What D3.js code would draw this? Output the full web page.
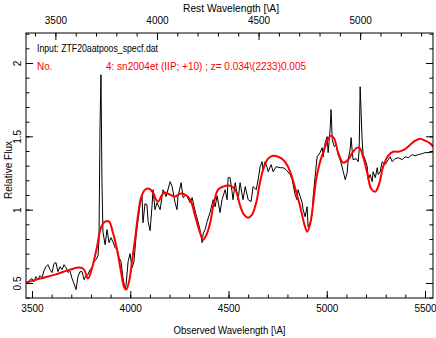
<!DOCTYPE html>
<html><head><meta charset="utf-8">
<script src="https://cdn.jsdelivr.net/npm/d3@7"></script>
<style>
html,body{margin:0;padding:0;background:#fff;}
svg{display:block;font-family:"Liberation Sans",Arial,sans-serif;}
</style></head>
<body>
<svg id="chart" width="436" height="338"></svg>
<script>
// ---- data ----
const obsWave = [3469,3480,3490,3500,3510,3520,3531,3541,3551,3561,3571,3581,3592,3602,3612,3622,3632,3643,3653,3663,3673,3683,3693,3704,3714,3724,3734,3744,3755,3765,3775,3785,3795,3806,3816,3826,3836,3841,3846,3851,3856,3861,3872,3882,3892,3902,3912,3923,3933,3943,3953,3963,3974,3979,3989,3999,4009,4019,4030,4040,4050,4060,4065,4075,4085,4091,4101,4111,4116,4126,4136,4152,4167,4182,4203,4213,4228,4238,4243,4259,4269,4284,4305,4315,4325,4335,4345,4355,4366,4371,4381,4391,4406,4422,4432,4442,4457,4467,4483,4493,4498,4508,4518,4523,4534,4549,4559,4574,4585,4600,4615,4625,4641,4651,4661,4671,4676,4686,4697,4702,4717,4727,4743,4763,4778,4793,4814,4824,4829,4839,4849,4854,4865,4875,4880,4890,4900,4905,4916,4926,4931,4941,4951,4966,4977,4982,4992,5002,5007,5017,5022,5028,5038,5048,5058,5068,5078,5084,5094,5104,5109,5119,5124,5129,5134,5150,5160,5165,5170,5180,5185,5196,5206,5211,5221,5231,5236,5247,5257,5262,5272,5282,5297,5313,5323,5333,5348,5364,5384,5399,5415,5435,5450,5465,5486,5501,5527,5542];
const obsFlux = [0.502,0.509,0.523,0.530,0.509,0.543,0.523,0.550,0.536,0.584,0.611,0.625,0.591,0.571,0.632,0.639,0.577,0.611,0.591,0.625,0.605,0.571,0.584,0.530,0.496,0.455,0.543,0.577,0.577,0.523,0.550,0.557,0.591,0.605,0.646,0.659,0.686,0.795,1.545,1.920,1.205,0.850,0.761,0.864,0.775,0.809,0.782,0.741,0.727,0.673,0.646,0.536,0.455,0.489,0.646,0.700,0.605,0.646,0.823,0.932,1.034,1.089,0.911,1.041,1.034,0.918,0.857,1.027,1.136,1.000,1.048,1.000,1.136,1.089,1.191,1.157,1.048,1.000,1.089,1.184,1.082,1.102,1.048,1.082,1.020,0.966,0.918,0.864,0.775,0.836,0.864,0.918,0.980,1.068,1.020,1.095,0.980,1.068,1.136,1.068,1.218,1.218,1.123,1.068,1.184,1.068,1.184,1.068,1.157,1.068,1.055,1.157,1.136,1.205,1.293,1.327,1.273,1.327,1.286,1.259,1.307,1.259,1.293,1.286,1.286,1.273,1.239,1.205,1.170,1.102,1.068,1.136,1.089,1.048,1.000,0.952,1.020,0.884,0.911,0.980,1.089,1.225,1.361,1.389,1.423,1.361,1.457,1.498,1.389,1.545,1.682,1.477,1.430,1.443,1.375,1.341,1.293,1.259,1.205,1.252,1.341,1.409,1.491,1.409,1.341,1.348,1.327,1.409,1.838,1.477,1.375,1.341,1.293,1.205,1.239,1.191,1.259,1.218,1.286,1.239,1.259,1.327,1.307,1.341,1.361,1.327,1.348,1.354,1.341,1.361,1.354,1.375,1.368,1.375,1.382,1.389,1.389,1.395];
const tplWave = [3469,3541,3617,3693,3744,3765,3785,3806,3831,3851,3872,3892,3912,3933,3953,3968,3979,3994,4009,4024,4040,4055,4075,4096,4116,4131,4142,4157,4172,4203,4228,4254,4279,4305,4330,4355,4371,4386,4406,4427,4447,4473,4498,4518,4539,4559,4579,4600,4620,4641,4661,4681,4702,4727,4753,4778,4803,4824,4844,4865,4885,4900,4916,4931,4946,4966,4987,5007,5022,5038,5058,5084,5109,5134,5155,5170,5185,5206,5226,5247,5267,5287,5313,5338,5364,5394,5425,5450,5476,5501,5527,5542];
const tplFlux = [0.502,0.530,0.557,0.591,0.605,0.591,0.530,0.605,0.748,0.877,0.918,0.918,0.843,0.727,0.577,0.475,0.455,0.509,0.646,0.795,0.966,1.082,1.136,1.143,1.116,1.068,1.055,1.089,1.116,1.102,1.089,1.109,1.102,1.068,0.959,0.843,0.795,0.823,0.905,1.055,1.136,1.157,1.164,1.157,1.123,1.027,0.966,0.945,0.966,1.048,1.191,1.293,1.348,1.368,1.361,1.341,1.293,1.218,1.123,1.020,0.905,0.850,0.905,1.041,1.205,1.327,1.409,1.484,1.504,1.484,1.389,1.320,1.341,1.395,1.423,1.416,1.361,1.252,1.143,1.123,1.177,1.293,1.368,1.395,1.395,1.409,1.443,1.470,1.484,1.470,1.450,1.429];
const obsTicks = [3500,4000,4500,5000,5500];
const restTicks = [3500,4000,4500,5000];
const fluxTicks = [0.5,1,1.5,2];
const fluxTickLabels = ["0.5","1","1.5","2"];
const redshift = 0.034;
const inputLabel = "Input: ZTF20aatpoos_specf.dat";
const matchNo = "No.";
const matchLabel = "4: sn2004et (IIP; +10) ; z= 0.034\\(2233)0.005";

// ---- layout ----
const L = 26, R = 433, T = 33, B = 298;
const svg = d3.select("#chart");
const x = d3.scaleLinear().domain([3469.5, 5540.7]).range([L, R]);
const xr = d3.scaleLinear().domain([3469.5/(1+redshift), 5540.7/(1+redshift)]).range([L, R]);
const y = d3.scaleLinear().domain([0.3977, 2.2045]).range([B, T]);

svg.append("defs").append("clipPath").attr("id","clip")
  .append("rect").attr("x",L).attr("y",T).attr("width",R-L).attr("height",B-T);

const g = svg.append("g").attr("clip-path","url(#clip)");
const lineObs = d3.line().x((d,i)=>x(obsWave[i])).y((d,i)=>y(obsFlux[i]));
const lineTpl = d3.line().x((d,i)=>x(tplWave[i])).y((d,i)=>y(tplFlux[i])).curve(d3.curveCatmullRom.alpha(0.5));
g.append("path").datum(obsWave).attr("d",lineObs).attr("fill","none").attr("stroke","#000").attr("stroke-width",1);
g.append("path").datum(tplWave).attr("d",lineTpl).attr("fill","none").attr("stroke","#ff0000").attr("stroke-width",2);

// ---- axes ----
function minorRange(a,b,s){const out=[];for(let v=Math.ceil(a/s)*s; v<=b+1e-9; v+=s) out.push(+v.toFixed(4)); return out;}
function style(sel){sel.select(".domain").remove(); sel.selectAll("line").attr("stroke","#000").attr("stroke-width",1);
  sel.selectAll("text").attr("fill","#000").attr("font-size",10).attr("font-family","Liberation Sans, Arial, sans-serif");}

// bottom
const bMin = minorRange(3469.5,5540.7,100);
svg.append("g").attr("transform",`translate(0,${B})`).call(d3.axisBottom(x).tickValues(bMin).tickSize(-3.5).tickFormat("")).call(style);
svg.append("g").attr("transform",`translate(0,${B})`).call(d3.axisBottom(x).tickValues(obsTicks).tickSize(-7).tickPadding(7).tickFormat(d3.format("d"))).call(style);
// top (rest)
const tMin = minorRange(3469.5/(1+redshift),5540.7/(1+redshift),100);
svg.append("g").attr("transform",`translate(0,${T})`).call(d3.axisTop(xr).tickValues(tMin).tickSize(-3.5).tickFormat("")).call(style);
svg.append("g").attr("transform",`translate(0,${T})`).call(d3.axisTop(xr).tickValues(restTicks).tickSize(-7).tickPadding(9).tickFormat(d3.format("d"))).call(style);
// left
const yMin = minorRange(0.3977,2.2045,0.1);
svg.append("g").attr("transform",`translate(${L},0)`).call(d3.axisLeft(y).tickValues(yMin).tickSize(-3.5).tickFormat("")).call(style);
const la = svg.append("g").attr("transform",`translate(${L},0)`).call(d3.axisLeft(y).tickValues(fluxTicks).tickSize(-7).tickFormat("")).call(style);
la.selectAll(".tick").append("text").text((d,i)=>fluxTickLabels[i])
  .attr("transform","translate(-5,0) rotate(-90)").attr("text-anchor","middle")
  .attr("font-size",10).attr("fill","#000");
// right
svg.append("g").attr("transform",`translate(${R},0)`).call(d3.axisRight(y).tickValues(yMin).tickSize(-3.5).tickFormat("")).call(style);
svg.append("g").attr("transform",`translate(${R},0)`).call(d3.axisRight(y).tickValues(fluxTicks).tickSize(-7).tickFormat("")).call(style);

// frame
svg.append("rect").attr("x",L).attr("y",T).attr("width",R-L).attr("height",B-T).attr("fill","none").attr("stroke","#000").attr("stroke-width",1);

// axis titles
svg.append("text").attr("x",231).attr("y",12).attr("text-anchor","middle").attr("font-size",10)
  .attr("textLength",96).attr("lengthAdjust","spacingAndGlyphs").text("Rest Wavelength [\\A]");
svg.append("text").attr("x",229.5).attr("y",334).attr("text-anchor","middle").attr("font-size",10)
  .attr("textLength",112).attr("lengthAdjust","spacingAndGlyphs").text("Observed Wavelength [\\A]");
svg.append("text").attr("transform","translate(12,170) rotate(-90)").attr("text-anchor","middle").attr("font-size",10)
  .attr("textLength",58).attr("lengthAdjust","spacingAndGlyphs").text("Relative Flux");

// legend text
svg.append("text").attr("x",37).attr("y",52).attr("font-size",10).attr("fill","#000")
  .attr("textLength",121).attr("lengthAdjust","spacingAndGlyphs").text(inputLabel);
svg.append("text").attr("x",37).attr("y",70).attr("font-size",10).attr("fill","#ff0000").text(matchNo);
svg.append("text").attr("x",106).attr("y",70).attr("font-size",10).attr("fill","#ff0000")
  .attr("textLength",200).attr("lengthAdjust","spacingAndGlyphs").text(matchLabel);
</script>
</body></html>
